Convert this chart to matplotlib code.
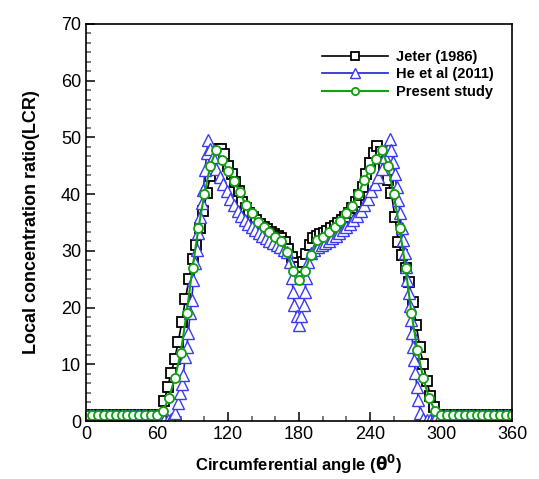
import matplotlib
matplotlib.use("Agg")
import matplotlib.pyplot as plt
from matplotlib.ticker import MultipleLocator, AutoMinorLocator

plt.rcParams['font.family'] = ['Liberation Sans', 'DejaVu Sans']

# Jeter (1986), every 3 degrees
jeter_angle = list(range(0, 361, 3))
jeter_lcr = [1.1] * 20 + [
    0.3, 0.5, 3.5, 6.0, 8.5, 11.0, 14.0, 17.5, 21.5, 25.0,
    28.5, 31.0, 34.0, 37.0, 40.2, 43.2, 46.5, 48.0, 48.0, 47.0,
    45.0, 43.5, 42.2, 40.5, 38.6, 37.5, 36.7, 36.0, 35.4, 34.8,
    34.2, 33.8, 33.4, 33.0, 32.7, 32.3, 31.6, 30.4, 29.0, 27.8,
    27.2,
    28.0, 29.4, 31.0, 32.2, 32.6, 32.9, 33.2, 33.5, 34.0, 34.4,
    34.9, 35.4, 36.0, 36.7, 37.6, 38.6, 39.8, 41.3, 43.5, 45.5,
    47.2, 48.5, 47.5, 45.0, 42.5, 40.2, 36.0, 31.5, 29.3, 27.0,
    24.5, 21.0, 17.0, 13.0, 10.0, 7.0, 4.5, 2.5, 0.3,
    0.3] + [1.1] * 20

# He et al (2011)
he_angle = list(range(0, 61, 3)) + [
    63, 66, 69, 72, 75.2, 78, 79.4, 80.9, 82.2, 83.7, 85.1, 86.5, 87.9,
    89.3, 90.7, 92.1, 93.5, 94.9, 96.3, 97.8, 99.1, 100.6, 102, 103.4,
    104.8, 107, 110, 113, 116, 119, 122, 125, 128, 131, 134, 137, 140,
    143, 146, 149, 152, 155, 158, 161, 164, 167, 170, 172.5, 174, 175,
    176, 178, 180, 182, 184, 185, 186, 187.5, 190, 193, 196, 199, 202,
    205, 208, 211, 214, 217, 220, 223, 226, 229, 232, 235, 238, 241,
    244, 247, 250, 253, 255.2, 256.5, 258, 259.5, 261, 262.5, 264,
    265.3, 266.6, 267.9, 269.2, 270.3, 271.4, 272.5, 273.4, 274.3,
    275.3, 276.2, 277.2, 278.4, 279.6, 280.9, 282.5, 285, 288, 291,
    294, 297] + list(range(300, 361, 3))
he_lcr = [1.0] * 21 + [
    0.5, 0.2, 0.1, 0.3, 1.4, 3.1, 4.9, 6.6, 8.1, 11.3, 13.1, 15.5, 19.0,
    21.3, 24.9, 27.8, 30.2, 33.1, 36.0, 38.4, 40.7, 44.3, 47.2, 49.5,
    48.0, 46.5, 44.5, 43.0, 41.7, 40.5, 39.2, 38.1, 37.1, 36.2, 35.5,
    34.8, 34.2, 33.6, 33.1, 32.6, 32.2, 31.8, 31.4, 31.0, 30.6, 30.2,
    29.8, 28.0, 25.2, 22.8, 20.5, 18.5, 17.0, 18.5, 20.5, 22.8, 25.2,
    28.0, 29.6, 30.1, 30.6, 31.0, 31.4, 31.8, 32.2, 32.6, 33.1, 33.6,
    34.2, 34.8, 35.5, 36.2, 37.1, 38.1, 39.2, 40.5, 41.7, 43.0, 44.5,
    46.5, 48.0, 49.8, 47.8, 45.6, 43.5, 41.3, 39.0, 36.6, 34.0, 31.9,
    29.6, 27.2, 24.9, 22.5, 20.2, 17.8, 15.5, 13.1, 10.8, 8.4, 6.0,
    3.7, 1.4, 0.3, 0.1, 0.2, 0.5, 1.0] + [1.0] * 21

# Present study, every 5 degrees
present_angle = list(range(0, 361, 5))
present_lcr = [1.0] * 13 + [
    1.8, 4.0, 7.5, 12.0, 19.0, 27.0, 34.0, 40.0, 45.0, 47.8,
    46.0, 44.0, 42.3, 40.4, 38.0, 36.6, 35.0, 34.2, 33.3, 32.5,
    31.7, 29.8, 26.5, 24.9, 26.5, 29.3, 31.9, 32.5, 33.3, 34.2,
    35.2, 36.6, 37.9, 40.0, 42.5, 44.4, 46.2, 47.8, 45.0, 40.0,
    34.0, 27.0, 19.0, 12.5, 7.5, 4.0, 1.8] + [1.0] * 13

fig = plt.figure(figsize=(5.39, 4.79), dpi=100)
ax = fig.add_axes([0.1596, 0.121, 0.7904, 0.829])

ax.plot(jeter_angle, jeter_lcr, '-', color='black', lw=1.2,
        marker='s', ms=7.5, mfc='white', mec='black', mew=1.3,
        label='Jeter (1986)')
ax.plot(he_angle, he_lcr, '-', color='#1f1fd0', lw=1.2,
        marker='^', ms=9, mfc='white', mec='#3b3bf0', mew=1.0,
        label='He et al (2011)')
ax.plot(present_angle, present_lcr, '-', color='#11a011', lw=1.5,
        marker='o', ms=6.5, mfc='white', mec='#11a011', mew=1.3,
        label='Present study')

ax.set_xlim(0, 360)
ax.set_ylim(0, 70)
ax.xaxis.set_major_locator(MultipleLocator(60))
ax.xaxis.set_minor_locator(AutoMinorLocator(3))
ax.yaxis.set_major_locator(MultipleLocator(10))
ax.yaxis.set_minor_locator(AutoMinorLocator(6))
ax.tick_params(which='both', direction='in', width=1.1, labelsize=13)
ax.tick_params(which='major', length=6.5)
ax.tick_params(which='minor', length=3.5, color='#555555')
for s in ax.spines.values():
    s.set_linewidth(1.2)

ax.set_xlabel(r'Circumferential angle ($\mathbf{\theta^0}$)', fontsize=12,
              fontweight='bold', labelpad=7)
ax.set_ylabel('Local concentration ratio(LCR)', fontsize=13,
              fontweight='bold', labelpad=15)

leg = ax.legend(loc='upper left', bbox_to_anchor=(0.554, 0.935), frameon=False,
                borderpad=0, borderaxespad=0, handlelength=4.5,
                handletextpad=0.6, fontsize=10.5, labelspacing=0.25,
                markerscale=0.8)
for t in leg.get_texts():
    t.set_fontweight('bold')

fig.savefig('out.png', dpi=100)
